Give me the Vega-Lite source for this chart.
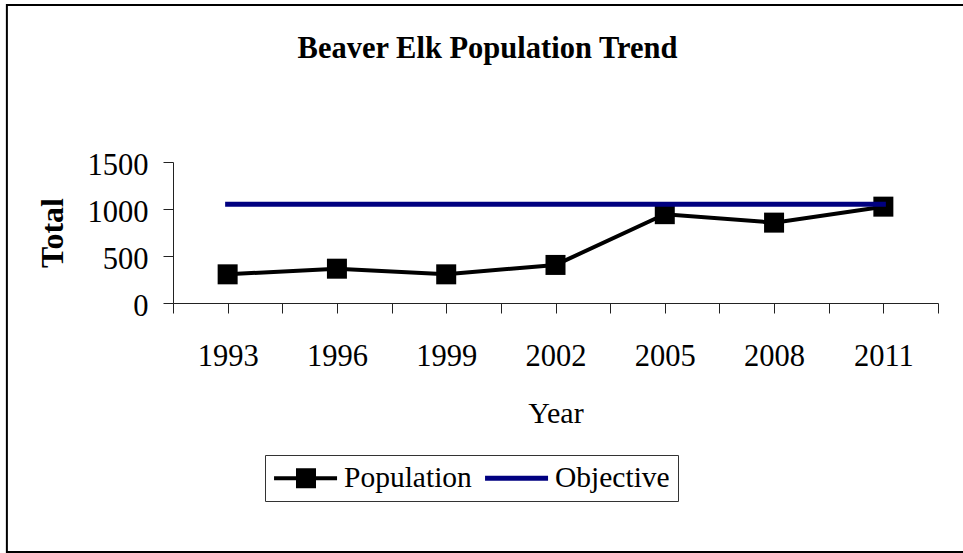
{
  "$schema": "https://vega.github.io/schema/vega-lite/v6.json",
  "width": 765,
  "height": 141,
  "autosize": {"type": "none"},
  "padding": {"left": 173, "top": 162, "right": 25, "bottom": 250},
  "background": "white",
  "config": {
    "view": {"stroke": null},
    "font": "Liberation Serif"
  },
  "title": {
    "text": "Beaver Elk Population Trend",
    "font": "Liberation Serif",
    "fontSize": 30.5,
    "fontWeight": "bold",
    "color": "#000000",
    "anchor": "middle",
    "frame": "group",
    "baseline": "alphabetic",
    "offset": 0,
    "dx": -68,
    "dy": 84
  },
  "data": {
    "values": [
      {"year": 1993, "series": "Population", "value": 305},
      {"year": 1996, "series": "Population", "value": 365},
      {"year": 1999, "series": "Population", "value": 305},
      {"year": 2002, "series": "Population", "value": 405},
      {"year": 2005, "series": "Population", "value": 945},
      {"year": 2008, "series": "Population", "value": 855},
      {"year": 2011, "series": "Population", "value": 1025},
      {"year": 1993, "series": "Objective", "value": 1050},
      {"year": 1996, "series": "Objective", "value": 1050},
      {"year": 1999, "series": "Objective", "value": 1050},
      {"year": 2002, "series": "Objective", "value": 1050},
      {"year": 2005, "series": "Objective", "value": 1050},
      {"year": 2008, "series": "Objective", "value": 1050},
      {"year": 2011, "series": "Objective", "value": 1050}
    ]
  },
  "encoding": {
    "x": {
      "field": "year",
      "type": "quantitative",
      "scale": {"domain": [1991.5, 2012.5], "nice": false, "zero": false},
      "axis": {
        "title": "Year",
        "titleFont": "Liberation Serif",
        "titleFontSize": 30,
        "titleFontWeight": "normal",
        "titleColor": "#000000",
        "titlePadding": 27,
        "values": [1991.5, 1993, 1994.5, 1996, 1997.5, 1999, 2000.5, 2002, 2003.5, 2005, 2006.5, 2008, 2009.5, 2011, 2012.5],
        "labelExpr": "datum.value % 1 === 0 ? '' + datum.value : ''",
        "labelFont": "Liberation Serif",
        "labelFontSize": 30.5,
        "labelColor": "#000000",
        "labelPadding": 28,
        "labelFlush": false,
        "labelOverlap": false,
        "grid": false,
        "domainColor": "#222222",
        "tickColor": "#222222",
        "tickSize": 10,
        "encode": {
          "ticks": {"update": {"opacity": {"signal": "datum.value % 1 === 0 ? 0 : 1"}}}
        }
      }
    },
    "y": {
      "field": "value",
      "type": "quantitative",
      "scale": {"domain": [0, 1500], "nice": false, "zero": false},
      "axis": {
        "title": "Total",
        "titleFont": "Liberation Serif",
        "titleFontSize": 32,
        "titleFontWeight": "bold",
        "titleColor": "#000000",
        "titlePadding": 18,
        "values": [0, 500, 1000, 1500],
        "format": "d",
        "labelFont": "Liberation Serif",
        "labelFontSize": 30.5,
        "labelColor": "#000000",
        "labelPadding": 15,
        "labelOffset": 3,
        "labelFlush": false,
        "labelOverlap": false,
        "grid": false,
        "domainColor": "#222222",
        "tickColor": "#222222",
        "tickSize": 10
      }
    }
  },
  "layer": [
    {
      "transform": [{"filter": "datum.series === 'Population' && datum.year === 1993"}],
      "mark": {"type": "rect", "fill": "transparent", "stroke": "#000000", "strokeWidth": 2},
      "encoding": {
        "x": {"datum": 1986.94, "type": "quantitative"},
        "x2": {"datum": 2014.2},
        "y": {"datum": 3170, "type": "quantitative"},
        "y2": {"datum": -2649}
      }
    },
    {
      "transform": [{"filter": "datum.series === 'Population'"}],
      "mark": {"type": "line", "strokeWidth": 4},
      "encoding": {
        "color": {
          "field": "series",
          "type": "nominal",
          "scale": {"domain": ["Population", "Objective"], "range": ["#000000", "#000080"]},
          "legend": {
            "orient": "none",
            "legendX": 92,
            "legendY": 293,
            "direction": "horizontal",
            "title": null,
            "strokeColor": "#333333",
            "fillColor": "#ffffff",
            "padding": 8,
            "labelFont": "Liberation Serif",
            "labelFontSize": 29.5,
            "labelColor": "#000000",
            "labelOffset": 41,
            "columnPadding": 12,
            "symbolSize": 900,
            "encode": {
              "symbols": {
                "update": {
                  "shape": {"signal": "datum.value === 'Population' ? 'M-0.93,-0.133H3.27V0.133H-0.93Z M0.533,-0.667H1.867V0.667H0.533Z' : 'M-0.93,-0.167H3.27V0.167H-0.93Z'"},
                  "fill": {"signal": "datum.value === 'Population' ? '#000000' : '#000080'"},
                  "fillOpacity": {"value": 1},
                  "opacity": {"value": 1},
                  "stroke": {"value": "transparent"},
                  "strokeWidth": {"value": 0},
                  "size": {"value": 900}
                }
              }
            }
          }
        }
      }
    },
    {
      "transform": [{"filter": "datum.series === 'Population'"}],
      "mark": {"type": "point", "shape": "square", "filled": true, "size": 400, "color": "#000000", "opacity": 1}
    },
    {
      "transform": [{"filter": "datum.series === 'Objective'"}],
      "mark": {"type": "line", "strokeWidth": 5, "strokeCap": "square"},
      "encoding": {
        "color": {"field": "series", "type": "nominal"}
      }
    }
  ]
}
